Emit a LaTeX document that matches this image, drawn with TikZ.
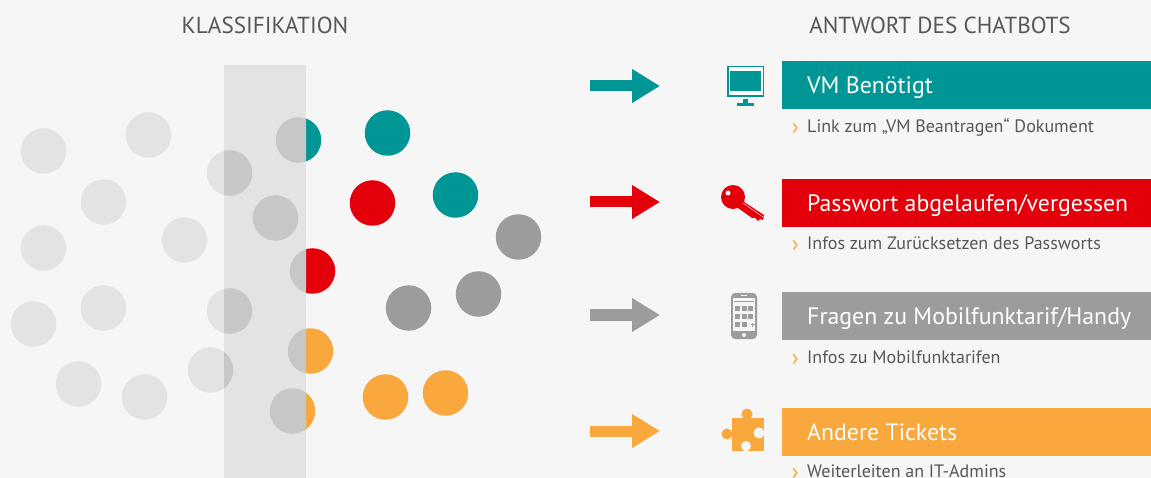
\documentclass[tikz,border=0pt]{standalone}
\usepackage{fontspec}
\setmainfont{PT Sans}
\usetikzlibrary{positioning, arrows.meta}
\definecolor{tealc}{HTML}{009696}
\definecolor{redc}{HTML}{E3000B}
\definecolor{greyc}{HTML}{9C9C9C}
\definecolor{orangec}{HTML}{F9A83E}
\definecolor{bgc}{HTML}{F6F6F6}
\definecolor{lightc}{HTML}{E3E3E3}
\definecolor{overc}{HTML}{C6C8C7}
\definecolor{textc}{HTML}{575757}
\tikzset{
  dot/.style={circle, inner sep=0pt, minimum size=45.5pt, xshift=0.5pt},
  head/.style={text=textc, inner sep=0pt, font=\fontsize{23.2}{26}\selectfont},
  answer/.style={fill=#1, anchor=north west, minimum width=369pt, minimum height=48pt, inner sep=0pt},
  answertxt/.style={text=white, inner sep=0pt, text height=17pt, text depth=5pt, yshift=-2.5pt, font=\fontsize{23.8}{28}\selectfont},
  detail/.style={text=textc, inner sep=0pt, text height=12pt, text depth=4pt, font=\fontsize{18}{22}\selectfont},
  chevron/.style={text=orangec, inner sep=0pt, font=\fontsize{23}{26}\selectfont}, 
  flow/.style={draw=#1, line width=11pt, -{Triangle[length=28pt, width=32pt]}}
}
\begin{document}
\begin{tikzpicture}[x=1pt, y=-1pt]
        \fill[bgc] (0,0) rectangle (1151,478);
        \useasboundingbox (0,0) rectangle (1151,478);
        \clip (0,0) rectangle (1151,478);
        %---------------------------
        \node[head] (klass) at (265,25) {KLASSIFIKATION};
        \node[head] (antwort) at (940,25) {ANTWORT DES CHATBOTS};
        %---------------------------
        \fill[lightc] (224,65) rectangle (306,478);
        \foreach \x/\y/\n in {43/151/a, 148/135/b, 229/173/c, 103/202/d, 275/218/e, 43/248/f, 184/240/g,
            103/308/h, 33/324/i, 229/311/j, 78/384/k, 144/397/l, 210/370/m}
            \node[dot, fill=lightc] (dot\n) at (\x,\y) {};
        \foreach \x/\y/\n/\c in {387/133/r/tealc, 455/195/s/tealc, 372/203/t/redc, 518/237/u/greyc, 478/294/v/greyc,
            408/308/w/greyc, 385/397/x/orangec, 445/393/y/orangec}
            \node[dot, fill=\c] (dot\n) at (\x,\y) {};
        \begin{scope}
            \clip (306,65) rectangle (400,478);
            \foreach \x/\y/\n/\c in {298/140/n/tealc, 312/271/o/redc, 310/351/p/orangec, 292/411/q/orangec}
                \node[dot, fill=\c] (dot\n) at (\x,\y) {};
        \end{scope}
        \begin{scope}
            \clip (224,65) rectangle (306,478);
            \foreach \x/\y in {229/173, 275/218, 229/311, 210/370, 298/140, 312/271, 310/351, 292/411}
                \fill[overc, xshift=0.5pt] (\x,\y) circle (22.75);
        \end{scope}
        %---------------------------
        \node[answer=tealc] (vm) at (782,61) {};
        \node[answer=redc, below=69pt of vm] (pw) {};
        \node[answer=greyc, below=65pt of pw] (mobil) {};
        \node[answer=orangec, below=68pt of mobil] (andere) {};
        \node[answertxt, right=25pt of vm.west] (vmkopf) {VM Benötigt};
        \node[answertxt, right=25pt of pw.west] (pwkopf) {Passwort abgelaufen/vergessen};
        \node[answertxt, right=25pt of mobil.west] (mobilkopf) {Fragen zu Mobilfunktarif/Handy};
        \node[answertxt, right=25pt of andere.west] (anderekopf) {Andere Tickets};
        %---------------------------
        \node[detail, below right=11pt and 25pt of vm.south west] (vmtxt) {Link zum „VM Beantragen“ Dokument};
        \node[detail, below right=11pt and 25pt of pw.south west] (pwtxt) {Infos zum Zurücksetzen des Passworts};
        \node[detail, below right=11pt and 25pt of mobil.south west] (mobiltxt) {Infos zu Mobilfunktarifen};
        \node[detail, below right=9pt and 25pt of andere.south west] (anderetxt) {Weiterleiten an IT-Admins};
        \node[chevron, left=8pt of vmtxt] (vmchev) {›};
        \node[chevron, left=8pt of pwtxt] (pwchev) {›};
        \node[chevron, left=8pt of mobiltxt] (mobilchev) {›};
        \node[chevron, left=8pt of anderetxt] (anderechev) {›};
        %---------------------------
        \coordinate (s1) at (590,86);  \coordinate (e1) at (660,86);
        \coordinate (s2) at (590,202); \coordinate (e2) at (660,202);
        \coordinate (s3) at (590,315); \coordinate (e3) at (660,315);
        \coordinate (s4) at (590,431); \coordinate (e4) at (660,431);
        \draw[flow=tealc] (s1) -- (e1);
        \draw[flow=redc] (s2) -- (e2);
        \draw[flow=greyc] (s3) -- (e3);
        \draw[flow=orangec] (s4) -- (e4);
        %--------------------------- monitor
        \fill[tealc] (727,66) rectangle (764,97);
        \fill[white] (728.5,67.5) rectangle (762.5,95.5);
        \fill[tealc] (730,71) rectangle (761,91);
        \fill[tealc] (743,99) rectangle (748,103);
        \fill[tealc] (737,103) rectangle (754,106);
        %--------------------------- key
        \fill[redc] (733,197) circle (12);
        \fill[redc] (741,200) -- (764,215) -- (763,220) -- (760,219) -- (758,221) -- (755,218) -- (752,218)
            -- (738,208) -- cycle;
        \fill[bgc] (728,193) circle (2.5);
        \draw[white, line width=0.4pt] (743,203) -- (763,217);
        %--------------------------- phone
        \fill[greyc, rounded corners=4pt] (731,293) rectangle (757,339);
        \fill[bgc] (733,298) rectangle (755,331);
        \fill[greyc] (734,301) rectangle (754,302.5);
        \foreach \x in {734.5,741.5,748}
            \foreach \y in {306,314}
                \fill[greyc] (\x,\y) rectangle ++(5,5);
        \fill[greyc] (734.5,322) rectangle ++(5,5);
        \fill[greyc] (741.5,322) rectangle ++(5,5);
        \draw[greyc, line width=0.8pt] (750.5,324.5) -- ++(4,0) (752.5,322.5) -- ++(0,4);
        \fill[bgc] (744,335) circle (2);
        \fill[bgc] (741,295.5) rectangle (747,296.5);
        %--------------------------- puzzle
        \fill[orangec] (732,418) rectangle (764,451);
        \fill[orangec] (747,414) circle (5.5);
        \fill[orangec] (727,434) circle (5.5);
        \fill[bgc] (759,433) circle (5.5);
        \fill[bgc] (757,431) rectangle (764.5,435);
        \fill[bgc] (746,446) circle (5);
        \fill[bgc] (744,447) rectangle (748,451.5);
        \end{tikzpicture}
\end{document}
